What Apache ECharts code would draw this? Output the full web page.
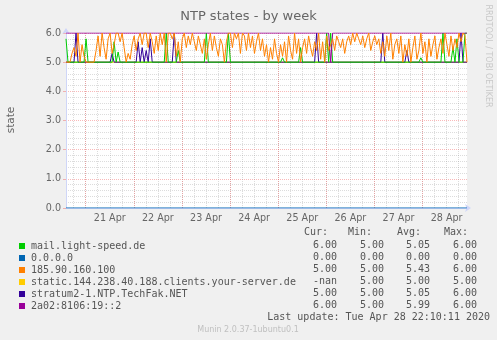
<!DOCTYPE html>
<html>
<head>
<meta charset="utf-8">
<title>NTP states - by week</title>
<script src="https://cdn.jsdelivr.net/npm/echarts@6/dist/echarts.min.js"></script>
<style>
  html, body { margin: 0; padding: 0; background: #f0f0f0; }
  #chart { width: 497px; height: 340px; }
</style>
</head>
<body>
<div id="chart"></div>
<script>
// x values are hours since 20 Apr 00:00; the graph runs 20 Apr 14:10 -> 28 Apr 22:10
const firstHour = 14.17;
const lastHour = 214.17;

const dayLabels = ["21 Apr", "22 Apr", "23 Apr", "24 Apr", "25 Apr", "26 Apr", "27 Apr", "28 Apr"];

const seriesNames = [
  "mail.light-speed.de",
  "0.0.0.0",
  "185.90.160.100",
  "static.144.238.40.188.clients.your-server.de",
  "stratum2-1.NTP.TechFak.NET",
  "2a02:8106:19::2",
];

// [hours after first sample, state]
const lightSpeedPts = [
  [0, 5.8], [1, 5], [9, 5], [10, 5.8], [11, 5], [23, 5], [24, 5.7], [25, 5], [26, 5.35], [27, 5],
  [49, 5], [50, 6], [51, 5], [55, 5], [56, 5.4], [57, 5], [69, 5], [70, 6], [71, 5], [80, 5],
  [81, 6], [82, 5], [107, 5], [108, 5.15], [109, 5], [116, 5], [117, 5.5], [118, 5], [129, 5], [130, 6],
  [131, 5], [132, 6], [133, 5], [176, 5], [177, 5.15], [178, 5], [187, 5], [188, 6], [189, 5], [192, 5],
  [193, 5.5], [194, 5], [195, 5.8], [196, 5], [198, 5], [199, 6], [200, 6],
];
const zeroPts = [[0, 0], [200, 0]];
const staticPts = [[0, 5], [200, 5]];
const techFakPts = [
  [0, 5], [4, 5], [5, 6], [6, 5], [22, 5], [23, 5.3], [24, 5], [35, 5], [36, 5.7], [37, 5],
  [38, 5.5], [39, 5], [40, 5.4], [41, 5], [42, 5.8], [43, 5], [53, 5], [54, 6], [55, 5], [124, 5],
  [125, 6], [126, 5], [157, 5], [158, 6], [159, 5], [169, 5], [170, 5.4], [171, 5], [196, 5], [197, 6],
  [198, 5], [200, 5],
];
const v6Pts = [[0, 6], [131, 6], [132, 5], [133, 6], [200, 6]];

// 185.90.160.100, one value per hour
const peerValues = [
  5.0, 5.0, 5.0, 5.3, 5.5, 5.2, 6.0, 5.0, 5.6, 5.2,
  5.0, 5.0, 5.0, 5.0, 5.0, 5.4, 5.9, 5.2, 6.0, 5.5,
  5.1, 5.8, 6.0, 5.3, 5.6, 6.0, 6.0, 5.7, 6.0, 5.5,
  5.0, 5.3, 5.1, 5.6, 5.9, 5.4, 5.8, 6.0, 5.6, 6.0,
  6.0, 5.5, 6.0, 5.7, 5.3, 5.9, 5.4, 6.0, 5.6, 6.0,
  5.0, 6.0, 6.0, 5.8, 6.0, 5.2, 5.7, 5.0, 5.8, 6.0,
  5.5, 5.9, 5.6, 6.0, 5.7, 5.4, 5.9, 5.6, 5.3, 5.8,
  5.1, 5.6, 6.0, 5.4, 5.9, 5.5, 5.2, 5.8, 5.6, 5.0,
  5.7, 6.0, 6.0, 5.5, 6.0, 5.8, 6.0, 5.3, 6.0, 5.9,
  5.4, 6.0, 5.5, 5.9, 5.3, 5.7, 6.0, 5.4, 5.8, 5.2,
  5.6, 5.0, 5.5, 5.1, 5.8, 5.3, 5.0, 5.6, 5.2, 5.7,
  5.0, 5.9, 5.4, 5.1, 6.0, 5.3, 5.8, 5.0, 5.5, 5.8,
  5.3, 5.9, 5.5, 5.2, 5.7, 5.4, 6.0, 5.1, 5.7, 5.0,
  5.9, 5.4, 5.6, 5.8, 5.4, 5.9, 5.7, 5.5, 5.8, 5.3,
  5.7, 5.9, 5.6, 6.0, 5.7, 6.0, 5.8, 5.6, 5.9, 5.5,
  5.8, 6.0, 5.4, 5.7, 5.9, 5.6, 5.8, 5.3, 5.7, 5.2,
  5.9, 5.4, 6.0, 5.1, 5.6, 5.8, 5.3, 5.9, 5.0, 5.6,
  5.2, 5.8, 5.0, 5.5, 5.9, 5.1, 5.4, 6.0, 5.3, 5.7,
  5.0, 5.8, 5.2, 5.6, 5.9, 5.1, 5.5, 5.8, 5.3, 6.0,
  5.6, 5.2, 5.9, 5.4, 5.8, 5.5, 6.0, 5.7, 6.0, 5.9,
  5.0,
];

const curValues = ["6.00", "0.00", "5.00", "-nan", "5.00", "6.00"];
const minValues = ["5.00", "0.00", "5.00", "5.00", "5.00", "5.00"];
const avgValues = ["5.05", "0.00", "5.43", "5.00", "5.05", "5.99"];
const maxValues = ["6.00", "0.00", "6.00", "5.00", "6.00", "6.00"];

const chart = echarts.init(document.getElementById("chart"));

const FONT = '"DejaVu Sans", sans-serif';
const MONO = '"DejaVu Sans Mono", monospace';
const plotLeft = 66;
const pxPerHour = 401 / (lastHour - firstHour);
const minorGrid = "rgba(140,140,140,0.3)";
const majorGrid = "rgba(240,70,70,0.38)";

const toPoints = (pts) => pts.map((p) => [firstHour + p[0], p[1]]);

const lineSeries = (name, color, data, z) => ({
  name,
  type: "line",
  xAxisIndex: 0,
  yAxisIndex: 0,
  data,
  color,
  z,
  symbol: "none",
  showSymbol: false,
  silent: true,
  lineStyle: { width: 1, color },
});

// legend table
const tableText = [];
const headers = [["Cur:", 328], ["Min:", 372], ["Avg:", 421], ["Max:", 468]];
headers.forEach(([t, x]) => {
  tableText.push({
    type: "text", x, y: 232,
    style: { text: t, font: "10px " + MONO, fill: "#555", align: "right", verticalAlign: "middle" },
  });
});
[[curValues, 337], [minValues, 384], [avgValues, 430], [maxValues, 477]].forEach(([col, x]) => {
  col.forEach((t, i) => {
    tableText.push({
      type: "text", x, y: 245 + i * 12,
      style: { text: t, font: "10px " + MONO, fill: "#555", align: "right", verticalAlign: "middle" },
    });
  });
});

chart.setOption({
  animation: false,
  backgroundColor: "#f0f0f0",
  title: {
    text: "NTP states - by week",
    left: "center",
    top: 5,
    textStyle: { fontFamily: FONT, fontSize: 13, fontWeight: "normal", color: "#666" },
  },
  legend: {
    orient: "vertical",
    left: 14,
    top: 235,
    itemWidth: 6,
    itemHeight: 6,
    itemGap: 0,
    icon: "rect",
    selectedMode: false,
    data: seriesNames,
    textStyle: { fontFamily: MONO, fontSize: 10, lineHeight: 12, color: "#555", padding: [0, 0, 0, 1] },
  },
  grid: [
    { left: plotLeft, right: 30, top: 33, bottom: 132, show: true, backgroundColor: "#fff", borderWidth: 0 },
    { left: plotLeft - (firstHour - 12) * pxPerHour, right: 30, top: 33, bottom: 132 },
    { left: plotLeft - firstHour * pxPerHour, right: 30, top: 33, bottom: 132 },
  ],
  xAxis: [
    {
      gridIndex: 0, type: "value", min: firstHour, max: lastHour,
      axisLine: {
        show: true, symbol: ["none", "arrow"], symbolSize: [6, 6], symbolOffset: [0, 4],
        lineStyle: { color: "#cfd6f8", width: 1 },
      },
      axisTick: { show: false }, axisLabel: { show: false }, splitLine: { show: false },
    },
    {
      // 6 hour grid
      gridIndex: 1, type: "value", position: "top", min: 12, max: lastHour, interval: 6,
      axisLine: { show: false }, axisTick: { show: false }, axisLabel: { show: false },
      splitLine: {
        show: true, showMinLine: false, showMaxLine: false,
        lineStyle: { color: minorGrid, width: 1, type: [1, 1] },
      },
    },
    {
      // day labels at noon
      gridIndex: 1, type: "value", position: "bottom", min: 12, max: lastHour, interval: 24,
      axisLine: { show: false }, axisTick: { show: false }, splitLine: { show: false },
      axisLabel: {
        margin: 5, color: "#666", fontFamily: FONT, fontSize: 9.6,
        formatter: (v) => {
          const k = Math.round((v - 36) / 24);
          if (k < 0 || k >= dayLabels.length || Math.abs(v - 36 - 24 * k) > 0.01) return "";
          return dayLabels[k];
        },
      },
    },
    {
      // midnight grid
      gridIndex: 2, type: "value", position: "top", min: 0, max: lastHour, interval: 24,
      axisLine: { show: false }, axisTick: { show: false }, axisLabel: { show: false },
      splitLine: {
        show: true, showMinLine: false, showMaxLine: false,
        lineStyle: { color: majorGrid, width: 1, type: [1, 1] },
      },
    },
  ],
  yAxis: [
    {
      gridIndex: 0, type: "value", min: 0, max: 6, interval: 1,
      axisLine: {
        show: true, symbol: ["none", "arrow"], symbolSize: [6, 6], symbolOffset: [0, 5],
        lineStyle: { color: "#cfd6f8", width: 1 },
      },
      axisTick: { show: true, length: 3, lineStyle: { color: majorGrid } },
      minorTick: { show: false, splitNumber: 5 },
      axisLabel: {
        margin: 5, color: "#666", fontFamily: FONT, fontSize: 9.6,
        formatter: (v) => v.toFixed(1),
      },
      splitLine: { show: true, lineStyle: { color: majorGrid, width: 1, type: [1, 1] } },
      minorSplitLine: { show: true, lineStyle: { color: minorGrid, width: 1, type: [1, 1] } },
    },
    { gridIndex: 1, type: "value", min: 0, max: 6, show: false },
    { gridIndex: 2, type: "value", min: 0, max: 6, show: false },
  ],
  series: [
    lineSeries(seriesNames[0], "#00cc00", toPoints(lightSpeedPts), 4),
    lineSeries(seriesNames[1], "#0066b3", toPoints(zeroPts), 2),
    lineSeries(seriesNames[2], "#ff8000", peerValues.map((v, i) => [firstHour + i, v]), 6),
    lineSeries(seriesNames[3], "#ffcc00", toPoints(staticPts), 2),
    lineSeries(seriesNames[4], "#330099", toPoints(techFakPts), 3),
    lineSeries(seriesNames[5], "#990099", toPoints(v6Pts), 5),
  ],
  graphic: {
    elements: [
      {
        type: "text", x: 11, y: 120, rotation: Math.PI / 2,
        style: { text: "state", font: "10.5px " + FONT, fill: "#666", align: "center", verticalAlign: "middle" },
      },
      {
        type: "text", x: 488, y: 56, rotation: -Math.PI / 2,
        style: { text: "RRDTOOL / TOBI OETIKER", font: "8px " + FONT, fill: "#c8c8c8", align: "center", verticalAlign: "middle" },
      },
      ...tableText,
      {
        type: "text", x: 490, y: 317.5,
        style: { text: "Last update: Tue Apr 28 22:10:11 2020", font: "10px " + MONO, fill: "#555", align: "right", verticalAlign: "middle" },
      },
      {
        type: "text", x: 248, y: 330,
        style: { text: "Munin 2.0.37-1ubuntu0.1", font: "8px " + FONT, fill: "#c0c0c0", align: "center", verticalAlign: "middle" },
      },
    ],
  },
});
</script>
</body>
</html>
